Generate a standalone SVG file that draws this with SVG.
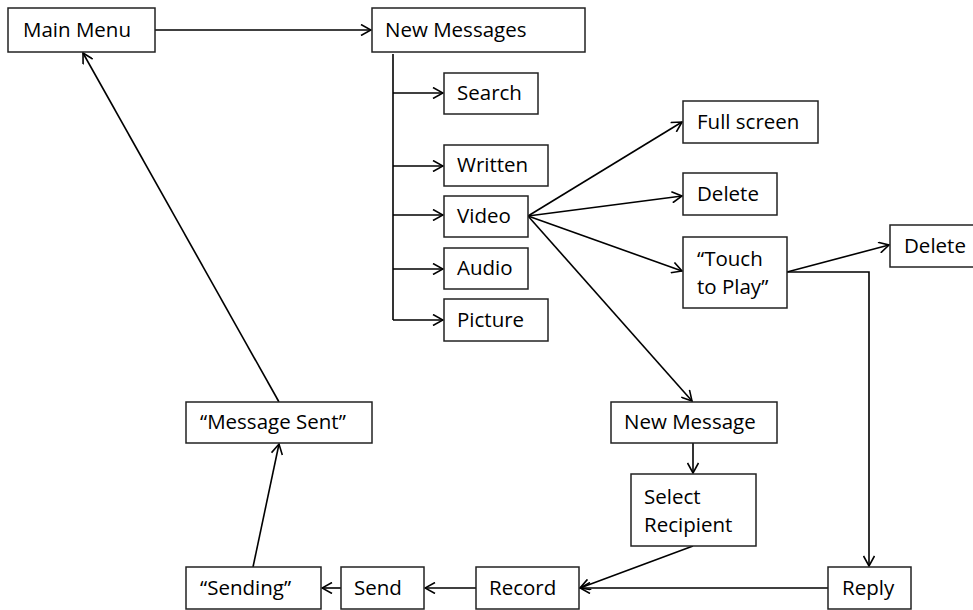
<svg xmlns="http://www.w3.org/2000/svg" width="973" height="610" viewBox="0 0 973 610">
  <style>
    .box rect { fill: #fff; stroke: #222; stroke-width: 1.5; }
    .box text { font-family: "Open Sans", "Liberation Sans", sans-serif; font-size: 20.5px; fill: #000; }
    .conn { fill: none; stroke: #000; stroke-width: 1.6; }
    .arrow { marker-end: url(#open); }
  </style>
  <defs>
    <marker id="open" viewBox="0 0 12 12" refX="11" refY="6" markerWidth="12" markerHeight="12" markerUnits="userSpaceOnUse" orient="auto">
      <path d="M1,0.5 L11,6 L1,11.5" fill="none" stroke="#000" stroke-width="1.6"/>
    </marker>
  </defs>

  <!-- connectors -->
  <g id="connectors">
    <line class="conn arrow" x1="155" y1="30" x2="371" y2="30"/>
    <!-- trunk from New Messages down the list -->
    <line class="conn" x1="393" y1="54" x2="393" y2="320"/>
    <line class="conn arrow" x1="393" y1="93" x2="443" y2="93"/>
    <line class="conn arrow" x1="393" y1="166" x2="443" y2="166"/>
    <line class="conn arrow" x1="393" y1="215" x2="443" y2="215"/>
    <line class="conn arrow" x1="393" y1="269" x2="443" y2="269"/>
    <line class="conn arrow" x1="393" y1="320" x2="443" y2="320"/>
    <!-- Video fan-out -->
    <line class="conn arrow" x1="528" y1="216" x2="682" y2="122"/>
    <line class="conn arrow" x1="528" y1="216" x2="682" y2="196"/>
    <line class="conn arrow" x1="528" y1="216" x2="682" y2="271"/>
    <line class="conn arrow" x1="528" y1="216" x2="692" y2="401"/>
    <!-- Touch to Play -->
    <line class="conn arrow" x1="787" y1="272" x2="889" y2="245"/>
    <polyline class="conn arrow" points="787,272 869,272 869,566"/>
    <!-- send flow -->
    <line class="conn arrow" x1="693" y1="443" x2="693" y2="473"/>
    <line class="conn arrow" x1="693" y1="546" x2="580" y2="588"/>
    <line class="conn arrow" x1="828" y1="588" x2="580" y2="588"/>
    <line class="conn arrow" x1="476" y1="588" x2="425" y2="588"/>
    <line class="conn arrow" x1="341" y1="588" x2="322" y2="588"/>
    <line class="conn arrow" x1="253" y1="567" x2="279" y2="444"/>
    <line class="conn arrow" x1="279" y1="402" x2="83" y2="53"/>
  </g>

  <g id="main-menu" class="box"><rect x="8" y="8" width="147" height="44"/><text x="23" y="37">Main Menu</text></g>
  <g id="new-messages" class="box"><rect x="372" y="8" width="213" height="44"/><text x="385" y="37">New Messages</text></g>
  <g id="search" class="box"><rect x="444" y="73" width="94" height="41"/><text x="457" y="100">Search</text></g>
  <g id="written" class="box"><rect x="444" y="145" width="104" height="41"/><text x="457" y="172">Written</text></g>
  <g id="video" class="box"><rect x="444" y="196" width="84" height="41"/><text x="457" y="223">Video</text></g>
  <g id="audio" class="box"><rect x="444" y="248" width="84" height="41"/><text x="457" y="275">Audio</text></g>
  <g id="picture" class="box"><rect x="444" y="299" width="104" height="42"/><text x="457" y="327">Picture</text></g>
  <g id="full-screen" class="box"><rect x="683" y="101" width="135" height="42"/><text x="697" y="129">Full screen</text></g>
  <g id="delete-video" class="box"><rect x="683" y="173" width="94" height="42"/><text x="697" y="201">Delete</text></g>
  <g id="touch-to-play" class="box"><rect x="683" y="237" width="104" height="71"/><text x="697" y="266">“Touch</text><text x="697" y="294">to Play”</text></g>
  <g id="delete-play" class="box"><rect x="890" y="225" width="90" height="42"/><text x="904" y="253">Delete</text></g>
  <g id="new-message" class="box"><rect x="611" y="402" width="166" height="41"/><text x="624" y="429">New Message</text></g>
  <g id="select-recipient" class="box"><rect x="631" y="474" width="125" height="72"/><text x="644" y="504">Select</text><text x="644" y="532">Recipient</text></g>
  <g id="message-sent" class="box"><rect x="186" y="402" width="186" height="41"/><text x="200" y="429">“Message Sent”</text></g>
  <g id="sending" class="box"><rect x="186" y="567" width="135" height="42"/><text x="200" y="595">“Sending”</text></g>
  <g id="send" class="box"><rect x="341" y="567" width="83" height="42"/><text x="354" y="595">Send</text></g>
  <g id="record" class="box"><rect x="476" y="567" width="103" height="42"/><text x="489" y="595">Record</text></g>
  <g id="reply" class="box"><rect x="828" y="567" width="83" height="42"/><text x="842" y="595">Reply</text></g>
</svg>
